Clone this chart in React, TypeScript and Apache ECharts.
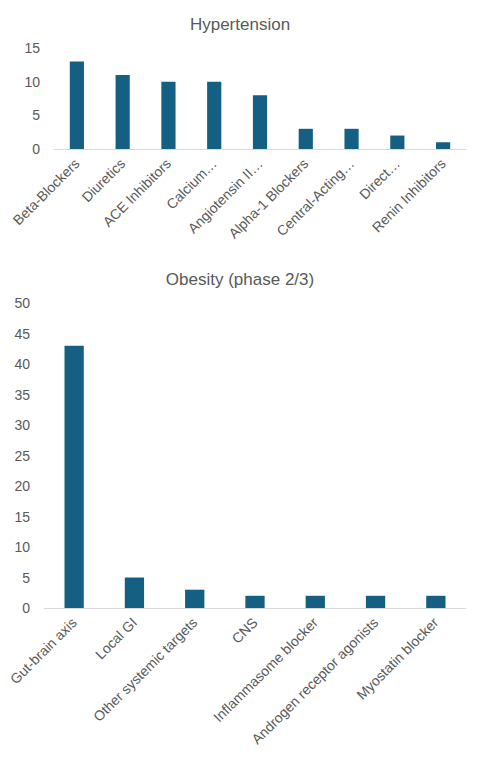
import * as echarts from "echarts";
import { useEffect, useRef } from "react";

const hyperCategories = [
  "Beta-Blockers",
  "Diuretics",
  "ACE Inhibitors",
  "Calcium…",
  "Angiotensin II…",
  "Alpha-1 Blockers",
  "Central-Acting…",
  "Direct…",
  "Renin Inhibitors",
];
const hyperValues = [13, 11, 10, 10, 8, 3, 3, 2, 1];

const obesityCategories = [
  "Gut-brain axis",
  "Local GI",
  "Other systemic targets",
  "CNS",
  "Inflammasome blocker",
  "Androgen receptor agonists",
  "Myostatin blocker",
];
const obesityValues = [43, 5, 3, 2, 2, 2, 2];

const BAR = "#156082";
const TEXT = "#595959";
const FONT = "Liberation Sans";

function getOption() {
  const catAxis = (gridIndex: number, data: string[]) => ({
    type: "category" as const,
    gridIndex,
    data,
    axisLine: { lineStyle: { color: "#d9d9d9", width: 1 } },
    axisTick: { show: false },
    axisLabel: {
      rotate: 45,
      interval: 0,
      color: TEXT,
      fontSize: 14,
      fontFamily: FONT,
      margin: 12,
    },
  });
  const valAxis = (gridIndex: number, max: number) => ({
    type: "value" as const,
    gridIndex,
    min: 0,
    max,
    interval: 5,
    splitLine: { show: false },
    axisLabel: { color: TEXT, fontSize: 14, fontFamily: FONT, margin: 14 },
  });
  const titleStyle = { color: TEXT, fontSize: 17, fontWeight: "normal" as const, fontFamily: FONT };
  return {
    animation: false,
    title: [
      { text: "Hypertension", left: "center", top: 11, textStyle: titleStyle },
      { text: "Obesity (phase 2/3)", left: "center", top: 266, textStyle: titleStyle },
    ],
    grid: [
      { left: 54, right: 14, top: 48, height: 101 },
      { left: 44, right: 14, top: 303, height: 305 },
    ],
    xAxis: [catAxis(0, hyperCategories), catAxis(1, obesityCategories)],
    yAxis: [valAxis(0, 15), valAxis(1, 50)],
    series: [
      {
        type: "bar",
        xAxisIndex: 0,
        yAxisIndex: 0,
        data: hyperValues,
        barWidth: "31%",
        itemStyle: { color: BAR },
      },
      {
        type: "bar",
        xAxisIndex: 1,
        yAxisIndex: 1,
        data: obesityValues,
        barWidth: "32%",
        itemStyle: { color: BAR },
      },
    ],
  };
}

export default function App() {
  const ref = useRef<HTMLDivElement>(null);

  useEffect(() => {
    document.body.style.margin = "0";
    if (!ref.current) return;
    const chart = echarts.init(ref.current, null, { renderer: "svg" });
    chart.setOption(getOption());
    return () => {
      chart.dispose();
    };
  }, []);

  return <div ref={ref} style={{ width: 480, height: 762, background: "#fff" }} />;
}
